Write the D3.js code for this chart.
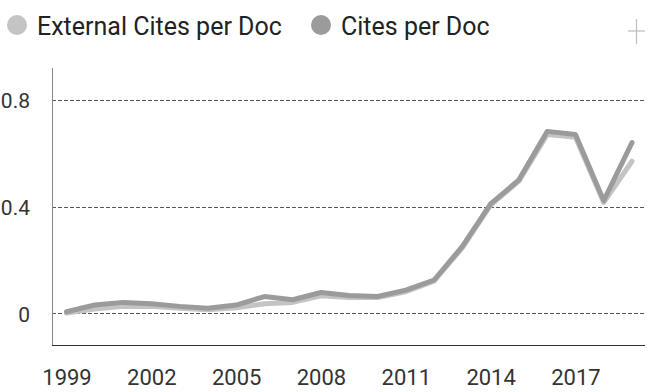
<!DOCTYPE html>
<html>
<head>
<meta charset="utf-8">
<script src="https://cdn.jsdelivr.net/npm/d3@7"></script>
<style>
  html, body { margin: 0; padding: 0; background: #fff; }
  svg { display: block; font-family: Roboto, "Noto Sans", sans-serif; }
</style>
</head>
<body>
<svg id="chart" width="654" height="392"></svg>
<script>
// Citation metrics per year
const years = [1999, 2000, 2001, 2002, 2003, 2004, 2005, 2006, 2007, 2008, 2009,
               2010, 2011, 2012, 2013, 2014, 2015, 2016, 2017, 2018, 2019];
const externalCites = [0.0, 0.015, 0.025, 0.025, 0.018, 0.012, 0.02, 0.035, 0.04, 0.065, 0.058,
                       0.058, 0.08, 0.12, 0.245, 0.405, 0.495, 0.67, 0.66, 0.415, 0.57];
const citesPerDoc = [0.005, 0.03, 0.04, 0.035, 0.025, 0.018, 0.03, 0.062, 0.05, 0.077, 0.066,
                     0.062, 0.086, 0.124, 0.25, 0.41, 0.50, 0.682, 0.67, 0.422, 0.64];
const xTicks = [1999, 2002, 2005, 2008, 2011, 2014, 2017];
const yTicks = [0, 0.4, 0.8];
const seriesNames = ["External Cites per Doc", "Cites per Doc"];
const seriesColors = ["#c4c4c4", "#9b9b9b"];

const svg = d3.select("#chart");

const x = d3.scaleLinear().domain([1999, 2019]).range([66.5, 632]);
const y = d3.scaleLinear().domain([-0.12, 0.92]).range([345, 68]);
const plotLeft = 52, plotRight = 645;

// Legend
const legend = svg.append("g").attr("class", "legend");
const legendX = [17, 321];
seriesNames.forEach((name, i) => {
  legend.append("circle")
    .attr("cx", legendX[i]).attr("cy", 25).attr("r", 10)
    .attr("fill", seriesColors[i]);
  legend.append("text")
    .attr("x", legendX[i] + 20).attr("y", 35)
    .attr("font-size", 25).attr("fill", "#222")
    .text(name);
});

// Plus marker in the corner
const plus = svg.append("g").attr("stroke", "#bdbdbd").attr("stroke-width", 1.2);
plus.append("line").attr("x1", 628).attr("x2", 645).attr("y1", 31).attr("y2", 31);
plus.append("line").attr("x1", 636.5).attr("x2", 636.5).attr("y1", 19).attr("y2", 44);

// Horizontal gridlines
svg.append("g").attr("class", "grid")
  .selectAll("line").data(yTicks).join("line")
  .attr("x1", plotLeft).attr("x2", plotRight)
  .attr("y1", d => Math.round(y(d)) + 0.5).attr("y2", d => Math.round(y(d)) + 0.5)
  .attr("stroke", "#555").attr("stroke-width", 1)
  .attr("stroke-dasharray", "4,2");

// Y axis
const yAxis = svg.append("g")
  .attr("transform", `translate(${plotLeft},0)`)
  .call(d3.axisLeft(y).tickValues(yTicks).tickSize(0).tickPadding(22)
    .tickFormat(d => d === 0 ? "0" : d3.format(".1f")(d)));
yAxis.select(".domain").remove();
yAxis.append("line")
  .attr("x1", 0.5).attr("x2", 0.5).attr("y1", 68).attr("y2", 345)
  .attr("stroke", "#888").attr("stroke-width", 1);
yAxis.selectAll("text")
  .attr("font-size", 21).attr("font-family", "Roboto, sans-serif")
  .attr("fill", "#333").attr("dy", "0.38em");

// X axis
const xAxis = svg.append("g")
  .attr("transform", "translate(0,345)")
  .call(d3.axisBottom(x).tickValues(xTicks).tickSize(0).tickPadding(24)
    .tickFormat(d3.format("d")));
xAxis.select(".domain").remove();
xAxis.append("line")
  .attr("x1", plotLeft).attr("x2", plotRight).attr("y1", 0.5).attr("y2", 0.5)
  .attr("stroke", "#333").attr("stroke-width", 1.2);
xAxis.selectAll("text")
  .attr("font-size", 22).attr("font-family", "Roboto, sans-serif")
  .attr("fill", "#333");

// Series lines
const line = d3.line()
  .x(d => x(d[0]))
  .y(d => y(d[1]));

[externalCites, citesPerDoc].forEach((vals, i) => {
  svg.append("path")
    .datum(years.map((yr, k) => [yr, vals[k]]))
    .attr("d", line)
    .attr("fill", "none")
    .attr("stroke", seriesColors[i])
    .attr("stroke-width", 5)
    .attr("stroke-linejoin", "round")
    .attr("stroke-linecap", "round");
});
</script>
</body>
</html>
